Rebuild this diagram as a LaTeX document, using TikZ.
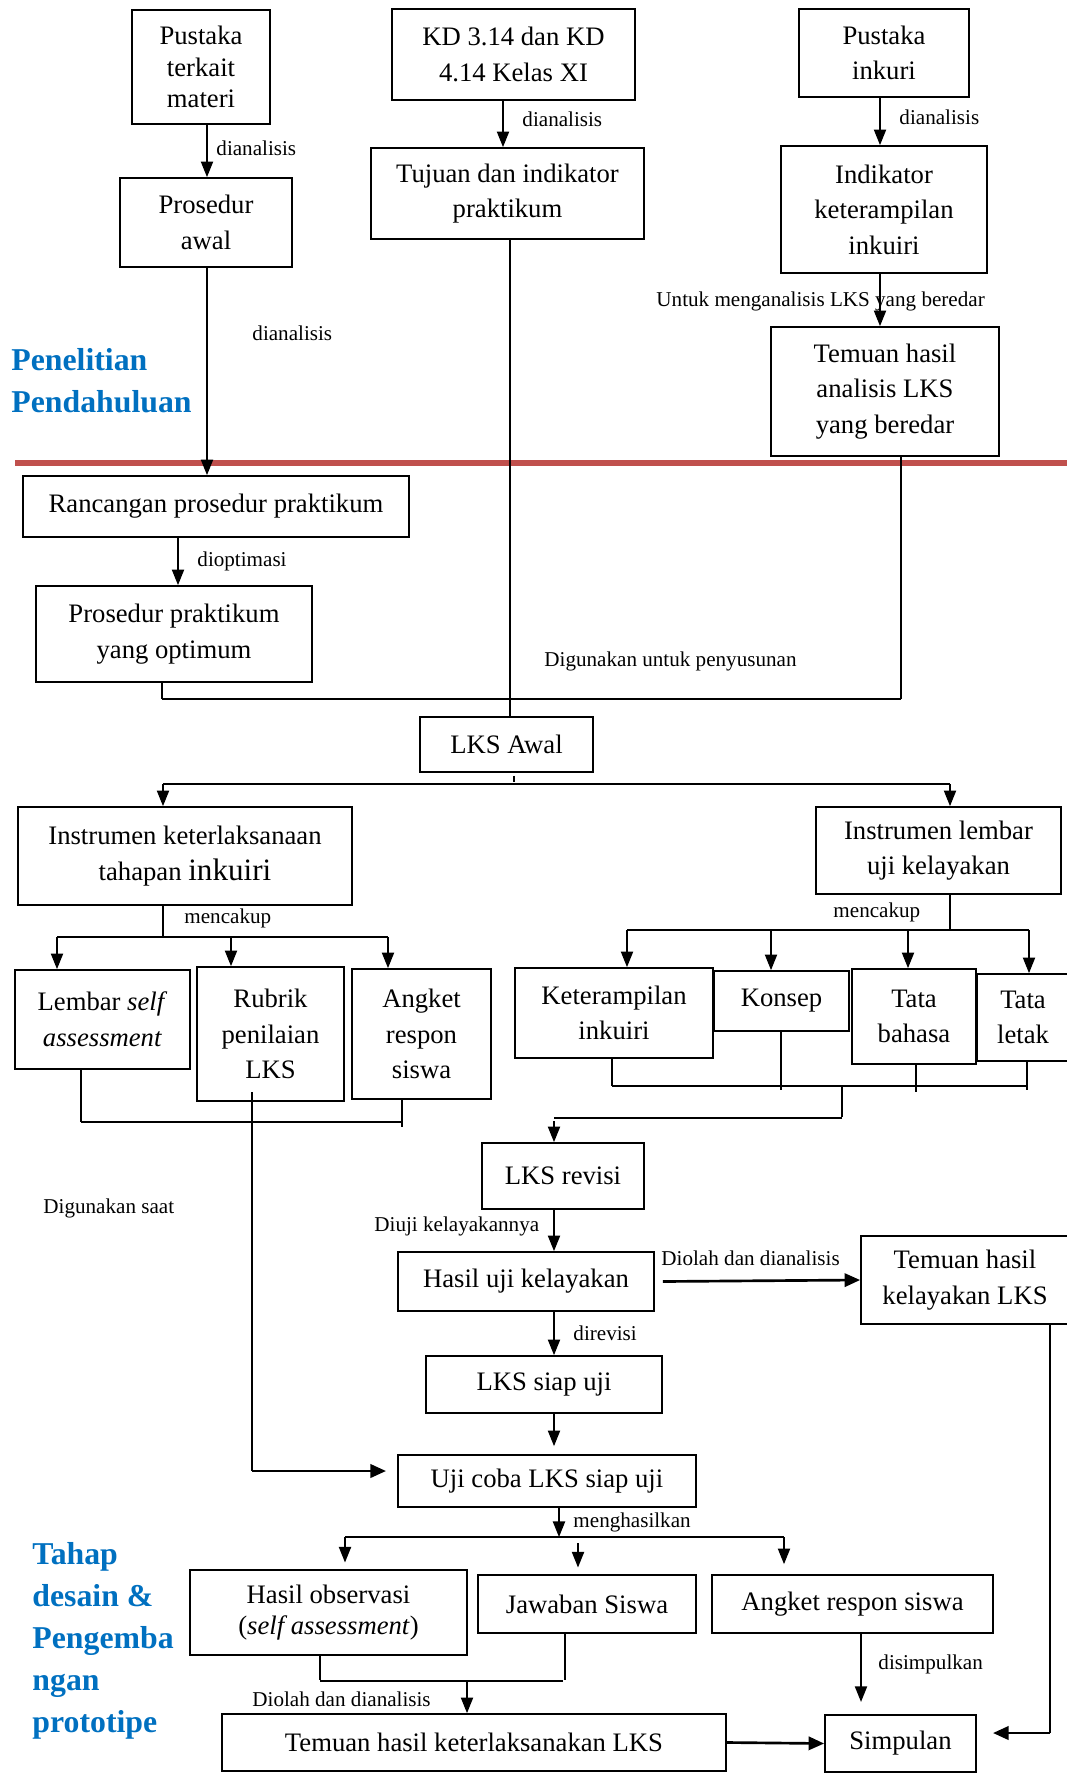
\documentclass[tikz,border=0pt]{standalone}
\usepackage{fontspec}
\setmainfont{Liberation Serif}
\usetikzlibrary{arrows.meta}
\definecolor{wblue}{HTML}{0070C0}
\definecolor{wred}{HTML}{C0504D}
\newcommand\mybox[6]{\node[boxst, minimum width={(#4-#2)*0.45pt}, minimum height={(#5-#3)*0.45pt}] (#1) at ({(#2+#4)/2},{(#3+#5)/2}) {#6};}
\begin{document}
\begin{tikzpicture}[x=0.45pt,y=-0.45pt,
 boxst/.style={draw, line width=0.8pt, inner sep=0pt, align=center, font=\fontsize{12}{16}\selectfont},
 lab/.style={anchor=west, inner sep=0pt, font=\fontsize{9.5}{11}\selectfont},
 arr/.style={-{Triangle[width=5.5pt,length=7pt]}, line width=0.6pt},
 ln/.style={line width=0.5pt},
 thk/.style={line width=0.9pt},
 tharr/.style={-{Triangle[width=6pt,length=7pt]}, line width=1.2pt},
 head/.style={anchor=west, inner sep=0pt, align=left, text=wblue, font=\fontsize{14.3}{18.9}\selectfont\bfseries}]
\useasboundingbox (0,0) rectangle (1067,1774);

% boxes
\mybox{ptm}{132}{10}{270}{124}{Pustaka\\[-1.8pt]terkait\\[-1.8pt]materi}
\mybox{kd}{392}{9}{635}{100}{KD 3.14 dan KD\\4.14 Kelas XI}
\mybox{pi}{799}{9}{969}{97}{Pustaka\\inkuri}
\mybox{pa}{120}{178}{292}{267}{Prosedur\\awal}
\mybox{tuj}{371}{148}{644}{239}{Tujuan dan indikator\\praktikum}
\mybox{ind}{781}{146}{987}{273}{Indikator\\keterampilan\\inkuiri}
\mybox{tem}{771}{327}{999}{456}{Temuan hasil\\analisis LKS\\yang beredar}
\mybox{ran}{23}{476}{409}{537}{Rancangan prosedur praktikum}
\mybox{pso}{36}{586}{312}{682}{Prosedur praktikum\\yang optimum}
\mybox{lks}{420}{717}{593}{772}{LKS Awal}
\mybox{ik}{18}{807}{352}{905}{Instrumen keterlaksanaan\\tahapan {\fontsize{14}{16}\selectfont inkuiri}}
\mybox{il}{816}{807}{1061}{894}{Instrumen lembar\\uji kelayakan}
\mybox{lem}{15}{970}{190}{1069}{Lembar \textit{self}\\\textit{assessment}}
\mybox{rub}{197}{967}{344}{1101}{Rubrik\\penilaian\\LKS}
\mybox{ang}{352}{969}{491}{1099}{Angket\\respon\\siswa}
\mybox{ket}{515}{968}{713}{1058}{Keterampilan\\inkuiri}
\mybox{kon}{714}{971}{849}{1031}{Konsep}
\mybox{tb}{852}{969}{976}{1064}{Tata\\bahasa}
\mybox{tl}{977}{974}{1069}{1061}{Tata\\letak}
\mybox{rev}{482}{1143}{644}{1209}{LKS revisi}
\mybox{huk}{398}{1252}{654}{1311}{Hasil uji kelayakan}
\mybox{tkl}{861}{1236}{1069}{1324}{Temuan hasil\\kelayakan LKS}
\mybox{siap}{426}{1356}{662}{1413}{LKS siap uji}
\mybox{uji}{398}{1455}{696}{1507}{Uji coba LKS siap uji}
\mybox{hob}{190}{1570}{467}{1655}{Hasil observasi\\[-1.8pt](\textit{self assessment})}
\mybox{jaw}{478}{1575}{696}{1633}{Jawaban Siswa}
\mybox{ang2}{712}{1575}{993}{1633}{Angket respon siswa}
\mybox{tkt}{222}{1714}{726}{1771}{Temuan hasil keterlaksanakan LKS}
\mybox{simp}{825}{1715}{976}{1772}{Simpulan}

% red divider
\draw[wred, line width=2.7pt] (15,463) -- (1067,463);

% headings
\node[head] (h1) at (11,381) {Penelitian\\Pendahuluan};
\node[head] (h2) at (32,1641) {Tahap\\desain \&\\Pengemba\\ngan\\prototipe};

% top arrows
\draw[arr] (207,0 |- ptm.south) -- (207,0 |- pa.north);
\draw[arr] (503,0 |- kd.south) -- (503,0 |- tuj.north);
\draw[arr] (880,0 |- pi.south) -- (880,0 |- ind.north);
\draw[arr] (880,0 |- ind.south) -- (880,0 |- tem.north);
\draw[arr] (207,0 |- pa.south) -- (207,0 |- ran.north);
\draw[ln] (510,0 |- tuj.south) -- (510,0 |- lks.north);
\draw[arr] (178,0 |- ran.south) -- (178,0 |- pso.north);
\draw[ln] (162,0 |- pso.south) -- (162,699);
\draw[thk] (162,699) -- (901,699);
\draw[ln] (901,699) -- (901,0 |- tem.south);

% LKS awal split
\draw[ln] (514,0 |- lks.south) ++(0,3) -- (514,782);
\draw[thk] (163,784) -- (950,784);
\draw[arr] (163,784) -- (163,0 |- ik.north);
\draw[arr] (950,784) -- (950,0 |- il.north);

% left instrument split
\draw[ln] (163,0 |- ik.south) -- (163,937);
\draw[thk] (57,937) -- (388,937);
\draw[arr] (57,937) -- (57,0 |- lem.north);
\draw[arr] (231,937) -- (231,0 |- rub.north);
\draw[arr] (388,937) -- (388,0 |- ang.north);
\draw[ln] (81,0 |- lem.south) -- (81,1122);
\draw[thk] (81,1122) -- (402,1122);
\draw[ln] (402,0 |- ang.south) -- (402,1127);
\coordinate (ujiin) at (386,1471);
\draw[ln] (252,1092) -- (252,1471);
\draw[tharr] (252,1471) -- (ujiin);

% right instrument split
\draw[ln] (950,0 |- il.south) -- (950,930);
\draw[thk] (627,930) -- (1029,930);
\draw[arr] (627,930) -- (627,0 |- ket.north);
\draw[arr] (771,930) -- (771,0 |- kon.north);
\draw[arr] (908,930) -- (908,0 |- tb.north);
\draw[arr] (1029,930) -- (1029,0 |- tl.north);
\draw[ln] (612,0 |- ket.south) -- (612,1086);
\draw[ln] (781,0 |- kon.south) -- (781,1090);
\draw[ln] (916,0 |- tb.south) -- (916,1092);
\draw[ln] (1027,0 |- tl.south) -- (1027,1090);
\draw[thk] (612,1086) -- (1027,1086);
\draw[ln] (842,1086) -- (842,1117);
\draw[thk] (842,1118) -- (554,1118);
\draw[arr] (554,1121) -- (554,0 |- rev.north);

% middle chain
\draw[arr] (554,0 |- rev.south) -- (554,0 |- huk.north);
\draw[tharr] ([xshift=3.6pt]huk.east) -- (tkl.west);
\draw[arr] (554,0 |- huk.south) -- (554,0 |- siap.north);
\draw[arr, shorten >=3.6pt] (554,0 |- siap.south) -- (554,0 |- uji.north);
\draw[arr] (559,0 |- uji.south) -- (559,1537);
\draw[thk] (345,1537) -- (784,1537);
\draw[arr, shorten >=3pt] (345,1537) -- (345,0 |- hob.north);
\draw[arr, shorten >=3pt] (578,1543) -- (578,0 |- jaw.north);
\draw[arr, shorten >=4.5pt] (784,1537) -- (784,0 |- ang2.north);
\draw[ln] (320,0 |- hob.south) -- (320,1680);
\draw[ln] (565,0 |- jaw.south) -- (565,1680);
\draw[thk] (320,1681) -- (563,1681);
\draw[arr] (467,1681) -- (467,0 |- tkt.north);
\draw[tharr] (tkt.east) -- (simp.west);
\draw[arr, shorten >=5.5pt] (861,0 |- ang2.south) -- (861,0 |- simp.north);
\coordinate (simpin) at (993,1733);
\draw[ln] (1050,0 |- tkl.south) -- (1050,1733);
\draw[tharr] (1050,1733) -- (simpin);

% labels
\node[lab] (l1) at (216,148) {dianalisis};
\node[lab] (l2) at (522,119) {dianalisis};
\node[lab] (l3) at (899,117) {dianalisis};
\node[lab] (l4) at (656,301) {Untuk menganalisis LKS yang beredar};
\node[lab] (l5) at (252,333) {dianalisis};
\node[lab] (l6) at (197,561) {dioptimasi};
\node[lab] (l7) at (544,661) {Digunakan untuk penyusunan};
\node[lab] (l8) at (184,918) {mencakup};
\node[lab] (l9) at (833,912) {mencakup};
\node[lab] (l10) at (43,1208) {Digunakan saat};
\node[lab] (l11) at (374,1226) {Diuji kelayakannya};
\node[lab] (l12) at (661,1258) {Diolah dan dianalisis};
\node[lab] (l13) at (573,1333) {direvisi};
\node[lab] (l14) at (573,1522) {menghasilkan};
\node[lab] (l15) at (252,1699) {Diolah dan dianalisis};
\node[lab] (l16) at (878,1664) {disimpulkan};
\end{tikzpicture}
\end{document}
